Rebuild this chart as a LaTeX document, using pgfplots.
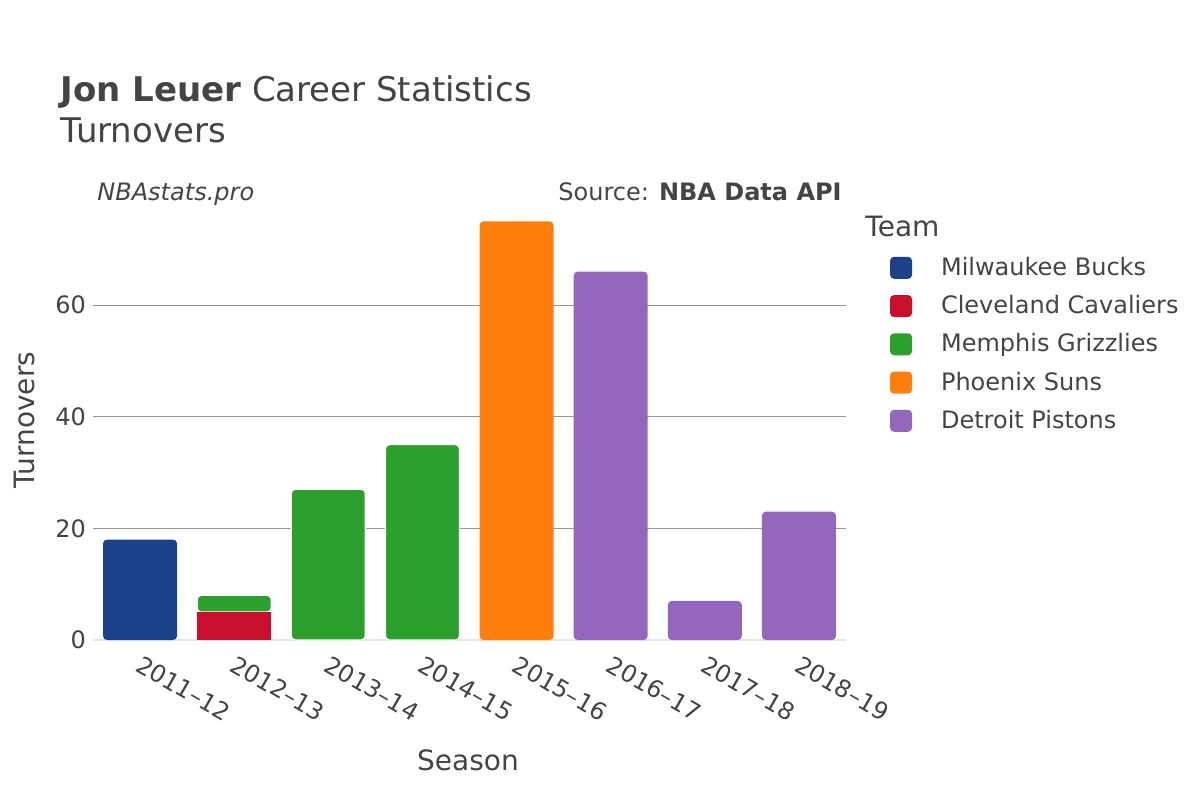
\documentclass[border=0pt]{standalone}
\usepackage{fontspec}
\setmainfont{DejaVu Sans}
\usepackage{pgfplots}
\pgfplotsset{compat=1.18}

\definecolor{txt}{RGB}{68,68,68}
\definecolor{gridc}{RGB}{150,150,150}
\definecolor{zeroc}{RGB}{230,230,230}
\definecolor{mil}{RGB}{29,66,138}
\definecolor{cle}{RGB}{200,16,46}
\definecolor{mem}{RGB}{44,160,44}
\definecolor{phx}{RGB}{255,127,14}
\definecolor{det}{RGB}{148,103,189}

\begin{document}
\begin{tikzpicture}[x=1pt,y=1pt]
\path[use as bounding box] (0,0) rectangle (600,400);

\begin{axis}[
    at={(46.5pt,80pt)}, anchor=south west,
    scale only axis, width=376.5pt, height=220.5pt,
    xmin=-0.5, xmax=7.5, ymin=0, ymax=79,
    ybar stacked, bar width=37pt,
    clip=false,
    axis line style={draw=none},
    major tick length=0pt,
    xtick={0,1,2,3,4,5,6,7},
    xticklabels={2011–12,2012–13,2013–14,2014–15,2015–16,2016–17,2017–18,2018–19},
    x tick label style={rotate=-30, anchor=north west, xshift=1.5pt, yshift=-2pt,
        font=\fontsize{12}{14}\selectfont, text=txt},
    ytick={0,20,40,60},
    y tick label style={font=\fontsize{12}{14}\selectfont, text=txt},
    /pgf/number format/assume math mode=true,
    ymajorgrids, grid style={color=gridc, line width=0.5pt},
    xlabel={Season}, ylabel={Turnovers},
    label style={font=\fontsize{14}{16}\selectfont, text=txt},
    xlabel style={at={(axis description cs:0.498,-0.272)}, anchor=center},
    ylabel style={at={(axis description cs:-0.091,0.499)}, anchor=center},
    legend style={at={(rel axis cs:1.058,0.878)}, anchor=north west,
        draw=none, fill=none, inner sep=0pt, row sep=4.5pt,
        font=\fontsize{12}{14}\selectfont, text=txt,
        cells={anchor=west},
        /tikz/every odd column/.append style={column sep=12.5pt}},
    legend image code/.code={%
        \fill[#1, draw=none, rounded corners=2pt] (0pt,-5.5pt) rectangle (11pt,5.5pt);},
]
\addplot[fill=mil, draw=none, rounded corners=2pt] coordinates {(0,18)(1,0)(2,0)(3,0)(4,0)(5,0)(6,0)(7,0)};
\addlegendentry{Milwaukee Bucks}
\addplot[fill=cle, draw=none] coordinates {(0,0)(1,5)(2,0)(3,0)(4,0)(5,0)(6,0)(7,0)};
\addlegendentry{Cleveland Cavaliers}
\addplot[fill=mem, draw=white, line width=0.6pt, rounded corners=2pt] coordinates {(0,0)(1,3)(2,27)(3,35)(4,0)(5,0)(6,0)(7,0)};
\addlegendentry{Memphis Grizzlies}
\addplot[fill=phx, draw=none, rounded corners=2pt] coordinates {(0,0)(1,0)(2,0)(3,0)(4,75)(5,0)(6,0)(7,0)};
\addlegendentry{Phoenix Suns}
\addplot[fill=det, draw=none, rounded corners=2pt] coordinates {(0,0)(1,0)(2,0)(3,0)(4,0)(5,66)(6,7)(7,23)};
\addlegendentry{Detroit Pistons}
\draw[zeroc, line width=1.25pt] (axis cs:-0.5,0) -- (axis cs:7.5,0);
\end{axis}

\node[anchor=base west, inner sep=0pt, text=txt, font=\fontsize{17}{20}\selectfont] at (30,349) {\textbf{Jon Leuer} Career Statistics};
\node[anchor=base west, inner sep=0pt, text=txt, font=\fontsize{17}{20}\selectfont] at (30,328.5) {Turnovers};
\node[anchor=base west, inner sep=0pt, text=txt, font=\fontsize{12}{14}\selectfont\itshape] at (48.5,300) {NBAstats.pro};
\node[anchor=base east, inner sep=0pt, text=txt, font=\fontsize{12}{14}\selectfont] at (421,300) {Source: \textbf{NBA Data API}};
\node[anchor=base west, inner sep=0pt, text=txt, font=\fontsize{14}{16}\selectfont] at (432.5,282) {Team};
\end{tikzpicture}
\end{document}
